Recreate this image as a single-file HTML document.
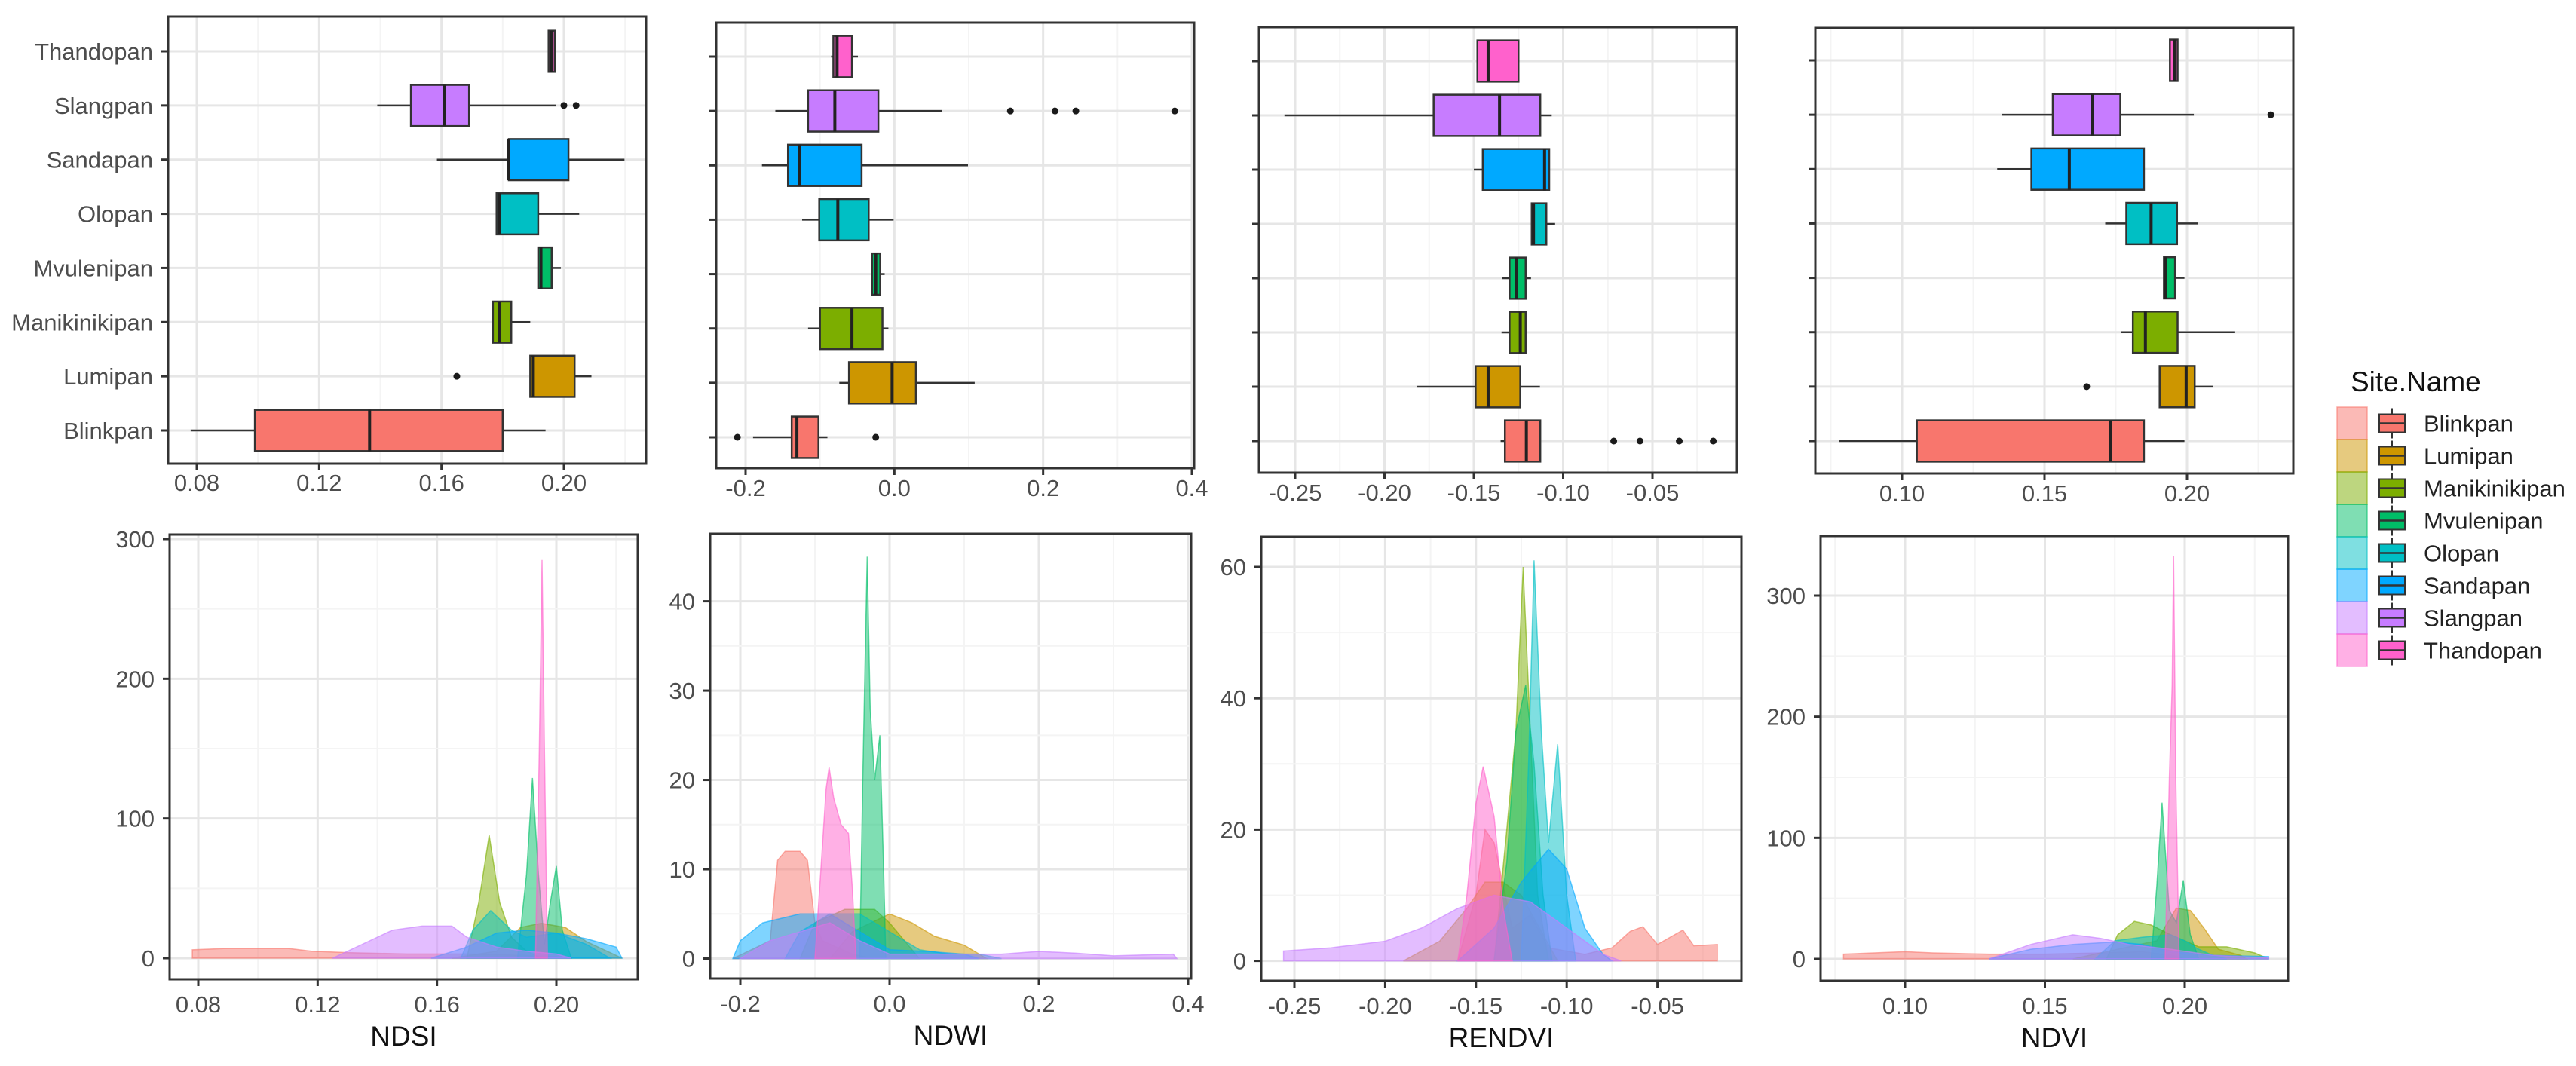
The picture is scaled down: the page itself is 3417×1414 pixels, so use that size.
<!DOCTYPE html>
<html><head><meta charset="utf-8"><title>Site indices</title>
<style>
html,body{margin:0;padding:0;background:#fff;}
svg{display:block;font-family:"Liberation Sans",Arial,sans-serif;}
</style></head>
<body>
<svg id="chart" width="3417" height="1414" viewBox="0 0 3417 1414" xmlns="http://www.w3.org/2000/svg"></svg>
<script>
const sites = ["Blinkpan","Lumipan","Manikinikipan","Mvulenipan","Olopan","Sandapan","Slangpan","Thandopan"];
const colors = ["#F8766D","#CD9600","#7CAE00","#00BE67","#00BFC4","#00A9FF","#C77CFF","#FF61CC"];

// box stats: [lowWhisker, q1, median, q3, highWhisker], order = sites
const ndsiBox = [[0.078,0.099,0.1365,0.180,0.194],[0.189,0.189,0.190,0.2035,0.209],[0.1768,0.1768,0.179,0.1828,0.189],[0.1916,0.1916,0.1925,0.196,0.199],[0.178,0.178,0.179,0.1916,0.205],[0.1585,0.182,0.182,0.2015,0.2198],[0.139,0.150,0.161,0.169,0.1975],[0.195,0.195,0.196,0.197,0.197]];
const ndsiOut = [[],[0.165],[],[],[],[],[0.200,0.204],[]];
const ndwiBox = [[-0.190,-0.138,-0.131,-0.102,-0.090],[-0.074,-0.061,-0.003,0.029,0.108],[-0.116,-0.100,-0.057,-0.016,-0.008],[-0.030,-0.030,-0.025,-0.019,-0.013],[-0.124,-0.101,-0.076,-0.0345,-0.001],[-0.178,-0.143,-0.128,-0.044,0.099],[-0.160,-0.116,-0.080,-0.0215,0.064],[-0.085,-0.082,-0.077,-0.057,-0.049]];
const ndwiOut = [[-0.211,-0.025],[],[],[],[],[],[0.156,0.216,0.244,0.377],[]];
const rendviBox = [[-0.135,-0.1326,-0.1206,-0.1128,-0.1128],[-0.182,-0.149,-0.142,-0.124,-0.113],[-0.1345,-0.130,-0.124,-0.121,-0.121],[-0.134,-0.130,-0.126,-0.121,-0.118],[-0.1176,-0.1176,-0.1166,-0.1094,-0.1045],[-0.150,-0.145,-0.1104,-0.1078,-0.1078],[-0.256,-0.1725,-0.1356,-0.1128,-0.1064],[-0.148,-0.148,-0.142,-0.125,-0.125]];
const rendviOut = [[-0.0717,-0.057,-0.035,-0.016],[],[],[],[],[],[],[]];
const ndviBox = [[0.078,0.1052,0.1732,0.1849,0.1991],[0.1904,0.1904,0.1997,0.2027,0.2091],[0.1768,0.181,0.1854,0.1967,0.2169],[0.1919,0.1919,0.1925,0.1958,0.1991],[0.1713,0.1787,0.1874,0.1965,0.2038],[0.1334,0.1454,0.1587,0.1849,0.1849],[0.135,0.1529,0.1668,0.1766,0.2024],[0.194,0.194,0.1955,0.1967,0.1967]];
const ndviOut = [[],[0.1648],[],[],[],[],[0.2294],[]];

// density curves [x, density], order = sites
const ndsiDens = [
 [[0.078,0],[0.078,6],[0.09,7],[0.11,7],[0.118,5],[0.13,4],[0.15,3],[0.17,3],[0.19,2],[0.2,1],[0.205,0]],
 [[0.165,0],[0.18,5],[0.188,22],[0.195,25],[0.203,22],[0.21,12],[0.218,4],[0.222,0]],
 [[0.17,0],[0.174,40],[0.1775,88],[0.181,40],[0.185,15],[0.19,5],[0.195,0]],
 [[0.187,0],[0.19,60],[0.192,129],[0.194,60],[0.196,10],[0.198,40],[0.2,66],[0.202,20],[0.205,0]],
 [[0.168,0],[0.172,20],[0.178,34],[0.185,20],[0.19,15],[0.2,18],[0.21,10],[0.218,0]],
 [[0.158,0],[0.17,8],[0.18,18],[0.19,20],[0.2,18],[0.21,14],[0.22,8],[0.222,0]],
 [[0.125,0],[0.135,10],[0.145,20],[0.155,23],[0.165,23],[0.17,15],[0.18,8],[0.19,5],[0.2,3],[0.205,0]],
 [[0.193,0],[0.1943,150],[0.1952,285],[0.196,150],[0.197,0]]
];
const ndwiDens = [
 [[-0.21,0],[-0.16,2],[-0.15,11],[-0.14,12],[-0.12,12],[-0.11,11],[-0.10,4],[-0.09,2],[-0.05,0.5],[-0.02,0]],
 [[-0.08,0],[-0.05,3],[0,5],[0.03,4],[0.06,2.5],[0.1,1.5],[0.13,0]],
 [[-0.12,0],[-0.1,4],[-0.06,5.5],[-0.02,5.5],[0,4],[0.02,2],[0.04,0]],
 [[-0.04,0],[-0.036,20],[-0.03,45],[-0.026,28],[-0.02,20],[-0.013,25],[-0.008,10],[-0.005,0]],
 [[-0.14,0],[-0.12,3],[-0.08,5],[-0.04,5],[0,3],[0.04,1],[0.08,0.5],[0.12,0.5],[0.15,0]],
 [[-0.21,0],[-0.2,2],[-0.17,4],[-0.12,5],[-0.08,5],[-0.04,3],[0,1],[0.05,0.8],[0.1,0.5],[0.12,0]],
 [[-0.2,0],[-0.16,2],[-0.12,3],[-0.08,4],[-0.04,2],[0,0.5],[0.1,0.5],[0.15,0.5],[0.2,0.8],[0.25,0.6],[0.3,0.3],[0.38,0.5],[0.385,0]],
 [[-0.1,0],[-0.092,10],[-0.085,19],[-0.081,21.4],[-0.075,18],[-0.065,15],[-0.055,14],[-0.05,8],[-0.045,0]]
];
const rendviDens = [
 [[-0.16,0],[-0.15,10],[-0.145,20],[-0.14,18],[-0.13,5],[-0.12,7],[-0.11,2],[-0.09,1],[-0.075,2],[-0.065,4.5],[-0.058,5.2],[-0.05,2.5],[-0.036,4.7],[-0.03,2.3],[-0.017,2.5],[-0.017,0]],
 [[-0.19,0],[-0.17,3],[-0.155,8],[-0.145,12],[-0.135,12],[-0.125,10],[-0.115,5],[-0.105,0]],
 [[-0.14,0],[-0.133,20],[-0.128,35],[-0.124,60],[-0.12,35],[-0.116,10],[-0.11,0]],
 [[-0.14,0],[-0.133,15],[-0.128,35],[-0.1226,42],[-0.118,30],[-0.113,10],[-0.108,0]],
 [[-0.125,0],[-0.121,30],[-0.118,61],[-0.114,35],[-0.11,18],[-0.105,33],[-0.1,10],[-0.095,0]],
 [[-0.16,0],[-0.14,5],[-0.125,12],[-0.11,17],[-0.1,14],[-0.09,5],[-0.08,1],[-0.075,0]],
 [[-0.256,0],[-0.256,1.5],[-0.23,2],[-0.2,3],[-0.18,5],[-0.16,8],[-0.14,10],[-0.12,9],[-0.1,5],[-0.08,1],[-0.07,0]],
 [[-0.16,0],[-0.155,10],[-0.15,24],[-0.146,29.6],[-0.14,22],[-0.135,8],[-0.13,0]]
];
const ndviDens = [
 [[0.078,0],[0.078,4],[0.1,6],[0.11,5],[0.13,4],[0.15,4],[0.17,5],[0.185,6],[0.195,3],[0.2,0]],
 [[0.16,0],[0.19,15],[0.197,42],[0.202,40],[0.207,25],[0.212,8],[0.22,3],[0.222,0]],
 [[0.172,0],[0.176,20],[0.182,31],[0.188,28],[0.195,20],[0.205,10],[0.215,10],[0.225,5],[0.23,0]],
 [[0.188,0],[0.19,60],[0.1919,129],[0.1945,40],[0.197,30],[0.1995,65],[0.202,20],[0.205,0]],
 [[0.168,0],[0.175,15],[0.185,18],[0.195,20],[0.2,15],[0.205,8],[0.21,3],[0.215,0]],
 [[0.13,0],[0.145,8],[0.16,12],[0.175,14],[0.185,12],[0.195,6],[0.21,3],[0.23,2],[0.23,0]],
 [[0.13,0],[0.145,12],[0.16,20],[0.17,17],[0.18,12],[0.195,8],[0.21,3],[0.23,1],[0.23,0]],
 [[0.193,0],[0.1945,150],[0.1955,226],[0.196,333],[0.1968,150],[0.198,0]]
];

const ndsiTicks = [0.08,0.12,0.16,0.20];
const ndsiTickLabels = ["0.08","0.12","0.16","0.20"];
const ndwiTicks = [-0.2,0,0.2,0.4];
const ndwiTickLabels = ["-0.2","0.0","0.2","0.4"];
const rendviTicks = [-0.25,-0.2,-0.15,-0.1,-0.05];
const rendviTickLabels = ["-0.25","-0.20","-0.15","-0.10","-0.05"];
const ndviTicks = [0.10,0.15,0.20];
const ndviTickLabels = ["0.10","0.15","0.20"];
const ndsiDensTicks = [0,100,200,300];
const ndwiDensTicks = [0,10,20,30,40];
const rendviDensTicks = [0,20,40,60];
const ndviDensTicks = [0,100,200,300];

const NS = "http://www.w3.org/2000/svg";
const svg = document.getElementById("chart");
function el(tag, attrs, parent, text){
  const e = document.createElementNS(NS, tag);
  for (const k in attrs) e.setAttribute(k, attrs[k]);
  if (text !== undefined) e.textContent = text;
  (parent || svg).appendChild(e);
  return e;
}
function lin(d0,d1,r0,r1){ return v => r0 + (v-d0)/(d1-d0)*(r1-r0); }

function frame(g, L, R, T, B, xs, ticks, labels, minorStep, yTickPos, yTickLabels, labelY){
  el("rect",{x:L,y:T,width:R-L,height:B-T,fill:"#fff"},g);
  // minor x grid
  const dmin = ticks[0] - (ticks[1]-ticks[0]);
  for (let k=0;k<ticks.length+1;k++){
    const v = dmin + (k+0.5)*(ticks[1]-ticks[0]);
    const x = xs(v);
    if (x>L && x<R) el("line",{x1:x,x2:x,y1:T,y2:B,stroke:"#f4f4f4","stroke-width":2},g);
  }
  for (let i=0;i<ticks.length;i++){
    const x = xs(ticks[i]);
    el("line",{x1:x,x2:x,y1:T,y2:B,stroke:"#e6e6e6","stroke-width":3},g);
  }
  for (let i=0;i<yTickPos.length;i++){
    el("line",{x1:L,x2:R,y1:yTickPos[i],y2:yTickPos[i],stroke:"#e6e6e6","stroke-width":3},g);
    if (minorStep && i<yTickPos.length-1){
      const ym=(yTickPos[i]+yTickPos[i+1])/2;
      el("line",{x1:L,x2:R,y1:ym,y2:ym,stroke:"#f4f4f4","stroke-width":2},g);
    }
  }
  return function finish(){
    el("rect",{x:L,y:T,width:R-L,height:B-T,fill:"none",stroke:"#333","stroke-width":3},g);
    for (let i=0;i<ticks.length;i++){
      const x = xs(ticks[i]);
      el("line",{x1:x,x2:x,y1:B,y2:B+9,stroke:"#333","stroke-width":3},g);
      const t = el("text",{x:x,y:labelY,"text-anchor":"middle","font-size":31,fill:"#4d4d4d"},g,labels[i]);
      
      
    }
    for (let i=0;i<yTickPos.length;i++){
      el("line",{x1:L-9,x2:L,y1:yTickPos[i],y2:yTickPos[i],stroke:"#333","stroke-width":3},g);
      if (yTickLabels){
        const t = el("text",{x:L-20,y:yTickPos[i]+11,"text-anchor":"end","font-size":31,fill:"#4d4d4d"},g,yTickLabels[i]);
        
        
      }
    }
  };
}

function boxPanel(name, L,R,T,B, d0,d1,p0,p1, yTop,yBot, ticks, labels, boxes, outs, showCats, labelY){
  const g = el("g",{});
  
  
  const xs = lin(d0,d1,p0,p1);
  const step = (yBot-yTop)/7;
  const ys = i => yBot - i*step;
  const yPos = sites.map((s,i)=>ys(i));
  const fin = frame(g,L,R,T,B,xs,ticks,labels,false,yPos,null,labelY);
  const hh = step*0.38;
  boxes.forEach((b,i)=>{
    const y = ys(i);
    const bg = el("g",{},g);
    
    
    el("line",{x1:xs(b[0]),x2:xs(b[1]),y1:y,y2:y,stroke:"#333","stroke-width":2.5},bg);
    el("line",{x1:xs(b[3]),x2:xs(b[4]),y1:y,y2:y,stroke:"#333","stroke-width":2.5},bg);
    el("rect",{x:xs(b[1]),y:y-hh,width:Math.max(xs(b[3])-xs(b[1]),3),height:2*hh,fill:colors[i],stroke:"#333","stroke-width":2.5},bg);
    el("line",{x1:xs(b[2]),x2:xs(b[2]),y1:y-hh,y2:y+hh,stroke:"#222","stroke-width":4},bg);
    outs[i].forEach(o=>{
      const c = el("circle",{cx:xs(o),cy:y,r:4.5,fill:"#1a1a1a"},bg);
      
      
    });
    if (showCats){
      const t = el("text",{x:L-20,y:y+11,"text-anchor":"end","font-size":31,fill:"#4d4d4d"},g,sites[i]);
      
      
    }
  });
  fin();
}

function densPanel(name, L,R,T,B, d0,d1,p0,p1, yv0,yv1,yp0,yp1, ticks, labels, yTicks, dens, title){
  const g = el("g",{});
  
  
  const xs = lin(d0,d1,p0,p1);
  const ys = lin(yv0,yv1,yp0,yp1);
  const fin = frame(g,L,R,T,B,xs,ticks,labels,true,yTicks.map(ys),yTicks.map(String),B+44);
  dens.forEach((pts,i)=>{
    const d = "M"+pts.map(p=>xs(p[0]).toFixed(1)+","+ys(p[1]).toFixed(1)).join("L")+"Z";
    const p = el("path",{d:d,fill:colors[i],"fill-opacity":0.5,stroke:colors[i],"stroke-opacity":0.6,"stroke-width":1.5},g);
    
    
  });
  fin();
  const t = el("text",{x:(L+R)/2,y:B+88,"text-anchor":"middle","font-size":37,fill:"#111"},g,title);
  
  
}

// top row boxplots
boxPanel("ndsi-boxplot",223,857,22,615, 0.08,0.20,261,748, 68,571, ndsiTicks,ndsiTickLabels, ndsiBox,ndsiOut,true,651);
boxPanel("ndwi-boxplot",950,1584,30,621, -0.2,0.4,989,1581, 75,580, ndwiTicks,ndwiTickLabels, ndwiBox,ndwiOut,false,658);
boxPanel("rendvi-boxplot",1670,2304,36,627, -0.25,-0.05,1718,2192, 81,585, rendviTicks,rendviTickLabels, rendviBox,rendviOut,false,664);
boxPanel("ndvi-boxplot",2408,3042,37,628, 0.10,0.20,2523,2901, 80,585, ndviTicks,ndviTickLabels, ndviBox,ndviOut,false,665);

// bottom row densities
densPanel("ndsi-density",225,846,709,1299, 0.08,0.20,263,738, 0,300,1271,715, ndsiTicks,ndsiTickLabels, ndsiDensTicks, ndsiDens,"NDSI");
densPanel("ndwi-density",942,1580,708,1298, -0.2,0.4,982,1576, 0,40,1271.5,797.6, ndwiTicks,ndwiTickLabels, ndwiDensTicks, ndwiDens,"NDWI");
densPanel("rendvi-density",1673,2310,712,1301, -0.25,-0.05,1717,2198.6, 0,60,1274.6,752, rendviTicks,rendviTickLabels, rendviDensTicks, rendviDens,"RENDVI");
densPanel("ndvi-density",2415,3035,711,1301, 0.10,0.20,2527,2898, 0,300,1272,790, ndviTicks,ndviTickLabels, ndviDensTicks, ndviDens,"NDVI");

// legend
const lg = el("g",{});


const lt = el("text",{x:3118,y:519,"font-size":37,fill:"#111"},lg,"Site.Name");


sites.forEach((s,i)=>{
  const y0 = 540 + i*43;
  const row = el("g",{},lg);
  
  
  el("rect",{x:3100,y:y0,width:40,height:43,fill:colors[i],"fill-opacity":0.5,stroke:colors[i],"stroke-opacity":0.6,"stroke-width":1.5},row);
  const cy = y0+21.5;
  el("line",{x1:3173,x2:3173,y1:cy-20,y2:cy+20,stroke:"#333","stroke-width":2},row);
  el("rect",{x:3156,y:cy-12,width:34,height:24,fill:colors[i],stroke:"#333","stroke-width":2},row);
  el("line",{x1:3156,x2:3190,y1:cy,y2:cy,stroke:"#333","stroke-width":2.5},row);
  el("text",{x:3215,y:cy+11,"font-size":31,fill:"#222"},row,s);
});
</script>
</body></html>
